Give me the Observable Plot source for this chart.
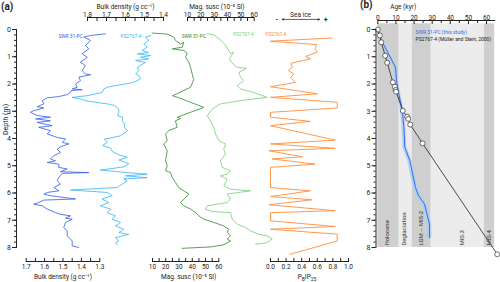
<!DOCTYPE html>
<html><head><meta charset="utf-8">
<script src="https://cdn.jsdelivr.net/npm/d3@7"></script>
<script src="https://cdn.jsdelivr.net/npm/@observablehq/plot@0.6"></script>
<style>
body{margin:0;background:#fff;}
#chart{position:relative;width:500px;height:282px;overflow:hidden;font-family:Roboto,"Noto Sans",sans-serif;color:#222;}
#chart svg{position:absolute;left:0;top:0;}
.lbl{position:absolute;white-space:nowrap;line-height:1;}
</style></head><body><div id="chart"></div>
<script>
// ---------- DATA ----------
// panel (a): [depth (m), value]
const swrBulk = [[0.16,1.27],[0.22,1.35],[0.28,1.387],[0.40,1.351],[0.59,1.378],[0.71,1.36],[0.89,1.396],[1.02,1.368],[1.20,1.405],[1.32,1.378],[1.51,1.396],[1.63,1.378],[1.66,1.35],[1.75,1.414],[1.88,1.405],[2.00,1.432],[2.12,1.423],[2.18,1.45],[2.21,1.396],[2.24,1.455],[2.31,1.459],[2.39,1.477],[2.46,1.523],[2.51,1.586],[2.61,1.613],[2.73,1.604],[2.83,1.64],[2.88,1.604],[2.98,1.659],[3.04,1.677],[3.16,1.64],[3.22,1.568],[3.28,1.649],[3.35,1.568],[3.41,1.64],[3.53,1.559],[3.59,1.632],[3.71,1.568],[3.83,1.586],[3.96,1.532],[4.02,1.486],[4.14,1.504],[4.20,1.468],[4.30,1.514],[4.39,1.532],[4.51,1.514],[4.63,1.55],[4.75,1.568],[4.82,1.541],[4.88,1.586],[4.94,1.523],[5.06,1.523],[5.12,1.477],[5.22,1.514],[5.25,1.36],[5.28,1.504],[5.43,1.523],[5.55,1.532],[5.67,1.514],[5.80,1.55],[5.92,1.523],[5.98,1.586],[6.04,1.604],[6.10,1.568],[6.22,1.432],[6.26,1.604],[6.35,1.632],[6.41,1.659],[6.47,1.613],[6.59,1.586],[6.72,1.541],[6.78,1.514],[6.84,1.459],[6.92,1.486],[6.96,1.45],[7.08,1.486],[7.27,1.496],[7.39,1.477],[7.57,1.477],[7.76,1.45],[7.94,1.45],[8.00,1.414]];
const psBulk = [[0.22,1.468],[0.28,1.495],[0.40,1.477],[0.53,1.504],[0.65,1.486],[0.77,1.512],[0.85,1.479],[0.89,1.538],[0.96,1.468],[1.02,1.521],[1.08,1.479],[1.14,1.547],[1.21,1.495],[1.39,1.538],[1.51,1.53],[1.63,1.547],[1.69,1.53],[1.81,1.521],[1.94,1.556],[2.00,1.6],[2.06,1.653],[2.12,1.696],[2.18,1.714],[2.31,1.723],[2.43,1.802],[2.49,1.881],[2.55,1.837],[2.61,1.811],[2.67,1.758],[2.73,1.696],[2.79,1.658],[2.86,1.644],[2.94,1.635],[3.04,1.635],[3.16,1.642],[3.22,1.616],[3.35,1.617],[3.47,1.605],[3.59,1.605],[3.71,1.589],[3.90,1.626],[3.97,1.67],[4.02,1.711],[4.14,1.695],[4.26,1.721],[4.35,1.679],[4.47,1.67],[4.60,1.635],[4.69,1.591],[4.79,1.635],[4.92,1.583],[5.04,1.609],[5.16,1.732],[5.25,1.591],[5.31,1.486],[5.37,1.6],[5.44,1.486],[5.48,1.609],[5.55,1.591],[5.67,1.617],[5.80,1.644],[5.89,1.889],[5.98,1.696],[6.10,1.67],[6.22,1.723],[6.35,1.688],[6.47,1.732],[6.59,1.679],[6.72,1.696],[6.84,1.653],[6.96,1.67],[7.08,1.626],[7.21,1.653],[7.33,1.609],[7.45,1.635],[7.52,1.583],[7.64,1.653],[7.76,1.635],[7.82,1.653],[7.89,1.644]];
const swrMag = [[0.13,9.8],[0.17,21.1],[0.28,26.1],[0.40,27.3],[0.53,31.1],[0.47,33.6],[0.65,32.4],[0.71,24.9],[0.77,33.6],[0.87,36.2],[1.02,34.9],[1.20,37.4],[1.39,38.7],[1.63,39.9],[1.84,41.1],[2.12,38.7],[2.24,33.6],[2.35,28.9],[2.43,25.1],[2.50,29.6],[2.86,48.7],[3.22,28.6],[3.27,31.1],[3.35,27.3],[3.59,28.6],[3.71,22.3],[3.83,19.8],[4.08,21.1],[4.20,18.5],[4.45,21.1],[4.82,19.8],[5.00,21.1],[5.18,19.8],[5.25,23.6],[5.43,24.9],[5.61,27.3],[5.80,29.8],[5.92,33.6],[6.04,37.4],[6.17,34.9],[6.35,31.1],[6.47,33.6],[6.59,38.7],[6.72,42.4],[6.84,44.9],[6.96,48.7],[7.08,56.2],[7.21,63.8],[7.33,67.5],[7.45,66.3],[7.57,68.8],[7.69,66.3],[7.76,68.8],[7.90,63.8],[7.98,53.7],[8.03,32.4]];
const psMag = [[0.16,24.8],[0.20,29.7],[0.33,33.5],[0.50,37.2],[0.68,39.8],[0.88,42.2],[0.83,44.7],[1.07,41.5],[1.21,43],[1.39,47.3],[1.42,54.2],[1.58,48.5],[1.73,49.7],[1.88,52.2],[2.06,47.3],[2.18,49.7],[2.31,59.7],[2.49,69.7],[2.61,49.7],[2.73,34.7],[2.92,28.5],[3.16,24.8],[3.35,27.2],[3.59,29.7],[3.83,31],[4.08,33.5],[4.20,38.5],[4.39,37.2],[4.57,38.5],[4.82,34.7],[5.06,36],[5.18,42.2],[5.31,39.8],[5.37,34.7],[5.49,39.8],[5.74,37.2],[5.86,42.2],[5.92,57.2],[6.04,39.8],[6.22,42.2],[6.35,39.8],[6.47,24.8],[6.59,23.5],[6.68,28.5],[6.72,42.2],[6.96,43.5],[7.14,47.3],[7.27,53.5],[7.39,57.2],[7.51,63.2],[7.57,69.7],[7.69,73.5],[7.82,69.7],[7.88,61]];
const psIP25 = [[0.31,0.79],[0.43,0.0],[0.55,0.59],[0.71,0.57],[0.83,0.60],[0.99,0.45],[1.08,0.51],[1.24,0.26],[1.39,0.28],[1.51,0.23],[1.63,0.30],[1.75,0.26],[1.94,0.32],[2.10,0.0],[2.36,0.60],[2.49,0.0],[2.67,0.855],[2.88,0.855],[3.04,0.0],[3.22,0.0],[3.37,0.51],[3.53,0.0],[4.06,0.83],[4.20,0.0],[4.36,0.83],[4.45,-0.02],[4.67,0.41],[4.75,0.02],[4.94,0.57],[5.06,0.0],[5.80,0.0],[5.92,0.51],[6.13,0.0],[6.25,0.53],[6.43,-0.02],[6.65,0.83],[6.72,0.0],[7.02,0.0],[7.23,0.83],[7.33,0.0],[7.51,0.855],[7.76,0.855],[8.25,0.25]];

// axis ticks
const depthTicks = [0,1,2,3,4,5,6,7,8];
const depthMinor = d3.range(0, 8.001, 0.2);
const bulkTicksBottom = [1.7,1.6,1.5,1.4,1.3];
const bulkMinorBottom = [1.65,1.55,1.45,1.35];
const bulkTicksTop = [1.8,1.7,1.6,1.5,1.4];
const bulkMinorTop = [1.75,1.65,1.55,1.45];
const magTicks = [10,20,30,40,50,60];
const magMinor = [15,25,35,45,55];
const ipTicks = [0,0.2,0.4,0.6,0.8,1.0];
const ipMinor = [0.1,0.3,0.5,0.7,0.9];
const ageTicks = [0,10,20,30,40,50,60];
const ageMinor = [5,15,25,35,45,55];

// panel (b)
const periods = ["Holocene","Deglaciation","LGM – MIS-2","MIS-3","MIS-4"];
const periodStart = [0,11.8,19,29.5,58.8];
const periodEnd = [11.8,19,29.5,58.8,64.5];
const periodShade = ["#cfcfcf","#ececec","#cfcfcf","#ececec","#cfcfcf"];
const periodLabelAge = [5.3,14.6,24.1,46.6,61.2];
const swrAge = [0,2,6,9.8,10.3,11.2,13.5,14.4,14.9,17.7,20.8,22.5,25.8,28.5,28.5];
const swrAgeLow = [0,1.2,5,8.8,9.3,10.2,12.5,13.3,13.8,16.4,19.5,21.1,24.3,27.2,27.0];
const swrAgeHigh = [0.6,2.8,7,10.8,11.3,12.3,14.6,15.5,16.1,19,22.2,24,27.3,29.8,30.0];
const swrAgeDepth = [0,0.4,0.9,1.39,1.88,2.24,2.98,3.59,4.33,4.82,5.8,6.1,6.41,7.14,7.64];
const psAge = [0,1.1,1.9,4.1,5.2,8.3,9.4,9.8,10.1,13.8,16.2,16.8,17.9,24.7,65.9];
const psAgeDepth = [0,0.22,0.47,0.96,1.22,1.94,2.10,2.22,2.28,2.98,3.20,3.28,3.49,4.18,8.25];

// ---------- RENDER ----------
const FONT = "Roboto, 'Noto Sans', sans-serif";
const C = {dblue:"#2f5de6", lblue:"#35b5f3", dgreen:"#2b8a2b", lgreen:"#72d072", orange:"#ff8c3a", ablue:"#3a66e8", band:"#aed0f0"};
const chart = document.getElementById("chart");
const style = {background:"transparent", fontSize:"6.5px", fontFamily:FONT, color:"#222", overflow:"visible"};
const yDepth = () => ({domain:[0,8], range:[29,247], axis:null});
const f1 = d3.format(".1f");
function mount(opts){
  const svg = Plot.plot({width:500, height:282, style, ...opts});
  chart.append(svg);
}
const xv = d => d[1], yd = d => d[0];
const SW = 0.8;

// depth axis (a)
mount({marginLeft:16, marginRight:480, marginTop:29, marginBottom:35,
  y:{domain:[0,8], range:[29,247]},
  marks:[
    Plot.frame({anchor:"left", stroke:"#222"}),
    Plot.axisY({ticks:depthTicks, anchor:"left", tickSize:4, tickPadding:1.5, label:null, fontSize:7}),
    Plot.axisY({ticks:depthMinor, anchor:"left", tickSize:2, tickFormat:()=>"", label:null}),
    Plot.text(["Depth (m)"], {frameAnchor:"left", dx:-11, dy:-3.5, rotate:-90, fontSize:7})
  ]});

// SWR bulk density (bottom axis)
mount({marginLeft:25.7, marginRight:400.7, marginTop:29, marginBottom:21,
  x:{domain:[1.7,1.3]}, y:yDepth(),
  marks:[
    Plot.frame({anchor:"bottom", stroke:"#222"}),
    Plot.axisX({ticks:bulkTicksBottom, anchor:"bottom", tickSize:-3, tickPadding:5.5, tickFormat:f1, label:null}),
    Plot.axisX({ticks:bulkMinorBottom, anchor:"bottom", tickSize:-3, tickFormat:()=>"", label:null}),
    Plot.line(swrBulk, {x:xv, y:yd, stroke:C.dblue, strokeWidth:SW}),
    Plot.text(["SWR 31-PC"], {x:1.459, y:0.25, fill:C.dblue, fontSize:4.8}),
    Plot.text(["Bulk density (g cc⁻¹)"], {frameAnchor:"bottom", dy:17})
  ]});

// PS2767-4 bulk density (top axis)
mount({marginLeft:87, marginRight:337, marginTop:17, marginBottom:35,
  x:{domain:[1.8,1.4]}, y:yDepth(),
  marks:[
    Plot.frame({anchor:"top", stroke:"#222"}),
    Plot.axisX({ticks:bulkTicksTop, anchor:"top", tickSize:-3, tickPadding:4, tickFormat:f1, label:null}),
    Plot.axisX({ticks:bulkMinorTop, anchor:"top", tickSize:-3, tickFormat:()=>"", label:null}),
    Plot.line(psBulk, {x:xv, y:yd, stroke:C.lblue, strokeWidth:SW}),
    Plot.text(["PS2767-4"], {x:1.572, y:0.25, fill:C.lblue, fontSize:4.8}),
    Plot.text(["Bulk density (g cc⁻¹)"], {frameAnchor:"top", dy:-13})
  ]});

// SWR mag susc (bottom axis)
mount({marginLeft:152, marginRight:281.7, marginTop:29, marginBottom:21,
  x:{domain:[10,60]}, y:yDepth(),
  marks:[
    Plot.frame({anchor:"bottom", stroke:"#222"}),
    Plot.axisX({ticks:magTicks, anchor:"bottom", tickSize:-3, tickPadding:5.5, label:null}),
    Plot.axisX({ticks:magMinor, anchor:"bottom", tickSize:-3, tickFormat:()=>"", label:null}),
    Plot.line(swrMag, {x:xv, y:yd, stroke:C.dgreen, strokeWidth:SW}),
    Plot.text(["SWR 31-PC"], {x:41.1, y:0.25, fill:C.dgreen, fontSize:4.8}),
    Plot.text(["Mag. susc (10⁻⁵ SI)"], {frameAnchor:"bottom", dy:17, dx:3})
  ]});

// PS2767-4 mag susc (top axis)
mount({marginLeft:187, marginRight:246.3, marginTop:17, marginBottom:35,
  x:{domain:[10,60]}, y:yDepth(),
  marks:[
    Plot.frame({anchor:"top", stroke:"#222"}),
    Plot.axisX({ticks:magTicks, anchor:"top", tickSize:-3, tickPadding:4, label:null}),
    Plot.axisX({ticks:magMinor, anchor:"top", tickSize:-3, tickFormat:()=>"", label:null}),
    Plot.line(psMag, {x:xv, y:yd, stroke:C.lgreen, strokeWidth:SW}),
    Plot.text(["PS2767-4"], {x:51.8, y:0.2, fill:C.lgreen, fontSize:4.8}),
    Plot.text(["Mag. susc (10⁻⁵ SI)"], {frameAnchor:"top", dy:-13, dx:-4})
  ]});

// PBIP25 (bottom axis) + sea ice arrow
const seaIce = [{x1:0.39, x2:0.15}, {x1:0.39, x2:0.63}];
mount({marginLeft:270, marginRight:152, marginTop:29, marginBottom:21,
  x:{domain:[0,1]}, y:yDepth(),
  marks:[
    Plot.frame({anchor:"bottom", stroke:"#222"}),
    Plot.axisX({ticks:ipTicks, anchor:"bottom", tickSize:-3, tickPadding:5.5, tickFormat:f1, label:null}),
    Plot.axisX({ticks:ipMinor, anchor:"bottom", tickSize:-3, tickFormat:()=>"", label:null}),
    Plot.line(psIP25, {x:xv, y:yd, stroke:C.orange, strokeWidth:0.9}),
    Plot.text(["PS2767-4"], {x:0.07, y:0.2, fill:C.orange, fontSize:4.8}),
    Plot.arrow(seaIce, {x1:"x1", x2:"x2", y1:-0.37, y2:-0.37, stroke:"#222", strokeWidth:0.7, headLength:4, headAngle:50}),
    Plot.text(["Sea ice"], {x:0.385, y:-0.55, fontSize:6.5}),
    Plot.text(["-", "+"], {x:[0.08,0.71], y:-0.37, fontSize:6.5, fontWeight:"bold"})
  ]});

// panel (b)
const periodRows = periods.map((p,i)=>({p, a:periodStart[i], b:periodEnd[i], c:periodShade[i], m:periodLabelAge[i]}));
const swrRows = swrAge.map((a,i)=>({a, lo:swrAgeLow[i], hi:swrAgeHigh[i], d:swrAgeDepth[i]}));
const psRows = psAge.map((a,i)=>({a, d:psAgeDepth[i]}));
mount({marginLeft:377.3, marginRight:5.8, marginTop:20, marginBottom:35,
  x:{domain:[0,64.5]}, y:yDepth(),
  marks:[
    Plot.rect(periodRows, {x1:"a", x2:"b", y1:-0.21, y2:8, fill:"c"}),
    Plot.text(periodRows, {x:"m", y:7.93, text:"p", rotate:-90, textAnchor:"start", fontSize:6, fill:"#333"}),
    Plot.areaX(swrRows, {x1:"lo", x2:"hi", y:"d", fill:C.band, fillOpacity:0.85}),
    Plot.line(swrRows, {x:"a", y:"d", stroke:C.ablue, strokeWidth:1}),
    Plot.line(psRows, {x:"a", y:"d", stroke:"#222", strokeWidth:0.8}),
    Plot.dot(psRows, {x:"a", y:"d", r:2.5, fill:"white", stroke:"#333", strokeWidth:0.7}),
    Plot.frame({anchor:"top", stroke:"#222"}),
    Plot.axisX({ticks:ageTicks, anchor:"top", tickSize:-3, tickPadding:4, label:null}),
    Plot.axisX({ticks:ageMinor, anchor:"top", tickSize:-2, tickFormat:()=>"", label:null}),
    Plot.text(["Age (kyr)"], {x:14, frameAnchor:"top", dy:-16}),
    Plot.text(["SWR 31-PC (this study)"], {x:20.8, y:0.12, textAnchor:"start", fill:C.ablue, fontSize:5}),
    Plot.text(["PS2767-4 (Müller and Stein, 2000)"], {x:20.8, y:0.37, textAnchor:"start", fill:"#222", fontSize:5})
  ]});

// depth axis (b)
mount({marginLeft:375.5, marginRight:120, marginTop:29, marginBottom:35,
  y:{domain:[0,8], range:[29,247]},
  marks:[
    Plot.frame({anchor:"left", stroke:"#222"}),
    Plot.axisY({ticks:depthTicks, anchor:"left", tickSize:4, tickPadding:1.5, label:null, fontSize:7}),
    Plot.axisY({ticks:depthMinor, anchor:"left", tickSize:2, tickFormat:()=>"", label:null})
  ]});

// HTML labels
function lbl(html, css){ const d=document.createElement("div"); d.className="lbl"; d.innerHTML=html; Object.assign(d.style, css); chart.append(d); }
lbl("(a)", {left:"1px", top:"2px", fontWeight:"bold", fontSize:"10px"});
lbl("(b)", {left:"360px", top:"0px", fontWeight:"bold", fontSize:"10px"});
lbl("P<sub style='font-size:5px'>B</sub>IP<sub style='font-size:5px'>25</sub>", {left:"307px", top:"278px", transform:"translate(-50%,-50%)", fontSize:"6.5px"});
</script></body></html>
